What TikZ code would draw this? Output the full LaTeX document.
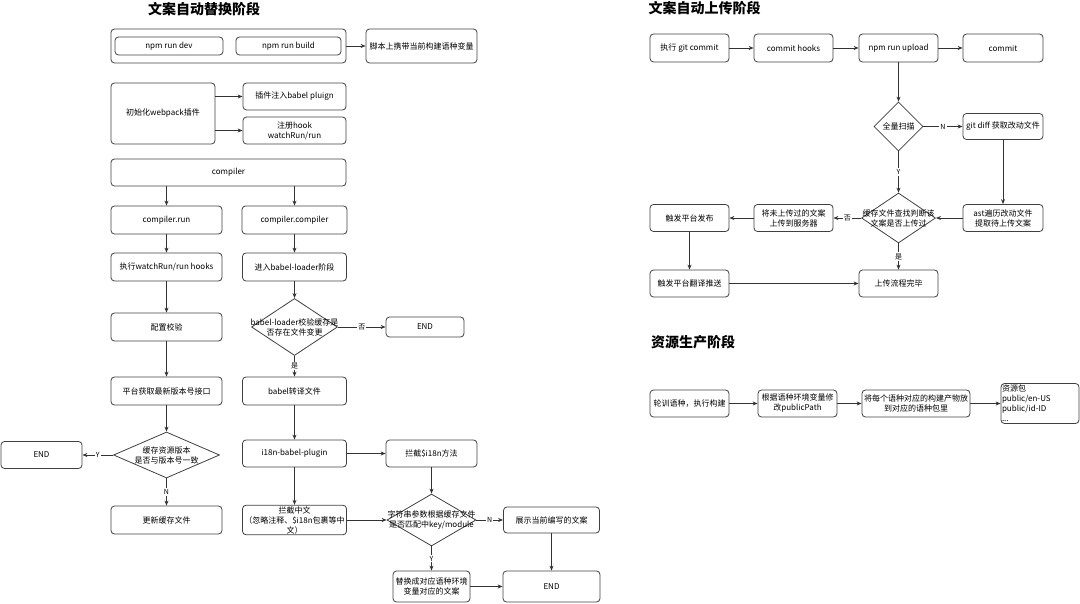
\documentclass[tikz,border=0pt]{standalone}
\usepackage{fontspec}
\setmainfont{Noto Sans CJK SC}
\usetikzlibrary{arrows.meta, shapes.geometric}

\begin{document}
\begin{tikzpicture}[x=1pt, y=-1pt,
  font=\fontsize{8}{10}\selectfont,
  box/.style={draw=black!75, line width=0.8pt, rounded corners=3.5pt, align=center, inner sep=1pt, minimum width=104pt, minimum height=27pt},
  decision/.style={draw=black!75, line width=0.8pt, diamond, inner sep=0pt},
  arr/.style={draw=black!80, line width=0.8pt, -{Stealth[length=5pt, width=4pt]}},
  lbl/.style={fill=white, inner sep=1pt, font=\fontsize{7}{8}\selectfont},
  ttl/.style={font=\fontsize{14}{16}\selectfont\bfseries}]
\useasboundingbox (0,0) rectangle (1080,604);

\node[ttl] (t1) at (204,9) {文案自动替换阶段};
\node[box, minimum width=235pt, minimum height=34pt] (npm) at (228.5,46) {};
\node[box, minimum width=108pt, minimum height=18pt] (dev) at (169,46) {npm run dev};
\node[box, minimum width=105pt, minimum height=18pt] (build) at (288.5,46) {npm run build};
\node[box, minimum width=111pt, minimum height=34pt] (envvar) at (421.5,46) {脚本上携带当前构建语种变量};
\node[box, minimum height=61pt] (initwp) at (163,113.5) {初始化webpack插件};
\node[box, minimum width=103pt] (inject) at (294.5,96.5) {插件注入babel pluign};
\node[box, minimum width=103pt] (reghook) at (294.5,130.5) {注册hook\\watchRun/run};
\node[box, minimum width=235pt] (compiler) at (228.5,172.5) {compiler};
\node[box, minimum width=111pt, minimum height=28pt] (crun) at (166.5,220) {compiler.run};
\node[box, minimum width=105pt, minimum height=28pt] (ccomp) at (294.5,220) {compiler.compiler};
\node[box, minimum width=111pt, minimum height=28pt] (hooks) at (166.5,267) {执行watchRun/run hooks};
\node[box, minimum height=28pt] (loader) at (294.5,267) {进入babel-loader阶段};
\node[box, minimum width=111pt, minimum height=28pt] (cfg) at (166.5,327) {配置校验};
\node[decision, minimum width=86pt, minimum height=57pt, label={[align=center]center:{babel-loader校验缓存是\\否存在文件变更}}] (filechk) at (294.5,327) {};
\node[box, minimum width=78pt, minimum height=20pt] (end1) at (425,327) {END};
\node[box, minimum width=111pt, minimum height=28pt] (fetch) at (166.5,391) {平台获取最新版本号接口};
\node[box, minimum height=28pt] (babel) at (294.5,391) {babel转译文件};
\node[decision, minimum width=106pt, minimum height=46pt, label={[align=center]center:{缓存资源版本\\是否与版本号一致}}] (verchk) at (166.5,455) {};
\node[box, minimum width=81pt] (end2) at (41.5,455) {END};
\node[box, minimum width=111pt, minimum height=28pt] (update) at (166.5,520) {更新缓存文件};
\node[box] (plugin) at (294.5,453.5) {i18n-babel-plugin};
\node[box, minimum width=91pt] (hijack) at (431.5,453.5) {拦截\$i18n方法};
\node[box, minimum height=28pt] (zh) at (294.5,520) {拦截中文\\（忽略注释、\$i18n包裹等中\\文）};
\node[decision, minimum width=89pt, minimum height=52pt, label={[align=center]center:{字符串参数根据缓存文件\\是否匹配中key/module}}] (match) at (431.5,520) {};
\node[box, minimum width=96pt, minimum height=26pt] (show) at (551.5,520) {展示当前编写的文案};
\node[box, minimum width=77pt, minimum height=31pt] (replace) at (431.5,586.5) {替换成对应语种环境\\变量对应的文案};
\node[box, minimum width=97pt, minimum height=31pt] (end3) at (551.5,586.5) {END};

\node[ttl] (t2) at (704.5,8) {文案自动上传阶段};
\node[box, minimum width=79pt, minimum height=28pt] (gitc) at (689.5,48) {执行 git commit};
\node[box, minimum width=79pt, minimum height=28pt] (chook) at (793.5,48) {commit hooks};
\node[box, minimum width=79pt, minimum height=28pt] (upload) at (898.5,48) {npm run upload};
\node[box, minimum width=80pt, minimum height=28pt] (commit) at (1003,48) {commit};
\node[decision, minimum width=49pt, minimum height=49pt, label={center:全量扫描}] (scan) at (898.5,126.5) {};
\node[box, minimum width=80pt, minimum height=26pt] (diff) at (1003,126.5) {git diff 获取改动文件};
\node[decision, minimum width=74pt, minimum height=50pt, label={[align=center]center:{缓存文件查找判断该\\文案是否上传过}}] (check) at (898.5,218) {};
\node[box, minimum width=80pt] (ast) at (1003,218) {ast遍历改动文件\\提取待上传文案};
\node[box, minimum width=79pt] (unup) at (793.5,218) {将未上传过的文案\\上传到服务器};
\node[box, minimum width=79pt] (publish) at (689.5,218) {触发平台发布};
\node[box, minimum width=79pt] (done) at (898.5,283.5) {上传流程完毕};
\node[box, minimum width=79pt] (push) at (689.5,283.5) {触发平台翻译推送};

\node[ttl] (t3) at (693,342) {资源生产阶段};
\node[box, minimum width=79pt] (poll) at (689.5,403.5) {轮训语种，执行构建};
\node[box, minimum width=79pt] (env) at (797.5,403.5) {根据语种环境变量修\\改publicPath};
\node[box, minimum width=108pt] (pack) at (916,403.5) {将每个语种对应的构建产物放\\到对应的语种包里};
\node[box, align=left, text width=76pt, minimum width=78pt, minimum height=40pt] (res) at (1040,403.5) {资源包\\public/en-US\\public/id-ID\\...};

\draw[arr] (npm) -- (envvar);
\draw[arr] (initwp.east |- inject) -- (inject);
\draw[arr] (initwp.east |- reghook) -- (reghook);
\draw[arr] (compiler.south -| crun) -- (crun);
\draw[arr] (compiler.south -| ccomp) -- (ccomp);
\foreach \a/\b in {crun/hooks, hooks/cfg, cfg/fetch, fetch/verchk, ccomp/loader, loader/filechk, babel/plugin, plugin/zh, plugin/hijack, hijack/match, zh/match, show/end3, replace/end3, gitc/chook, chook/upload, upload/commit, upload/scan, diff/ast, ast/check, unup/publish, publish/push, push/done, poll/env, env/pack, pack/res}
  \draw[arr] (\a) -- (\b);
\draw[arr] (filechk) -- node[lbl] {否} (end1);
\draw[arr] (filechk) -- node[lbl] {是} (babel);
\draw[arr] (verchk) -- node[lbl] {Y} (end2);
\draw[arr] (verchk) -- node[lbl] {N} (update);
\draw[arr] (match) -- node[lbl] {N} (show);
\draw[arr] (match) -- node[lbl] {Y} (replace);
\draw[arr] (scan) -- node[lbl] {N} (diff);
\draw[arr] (scan) -- node[lbl] {Y} (check);
\draw[arr] (check) -- node[lbl] {否} (unup);
\draw[arr] (check) -- node[lbl] {是} (done);
\end{tikzpicture}
\end{document}
